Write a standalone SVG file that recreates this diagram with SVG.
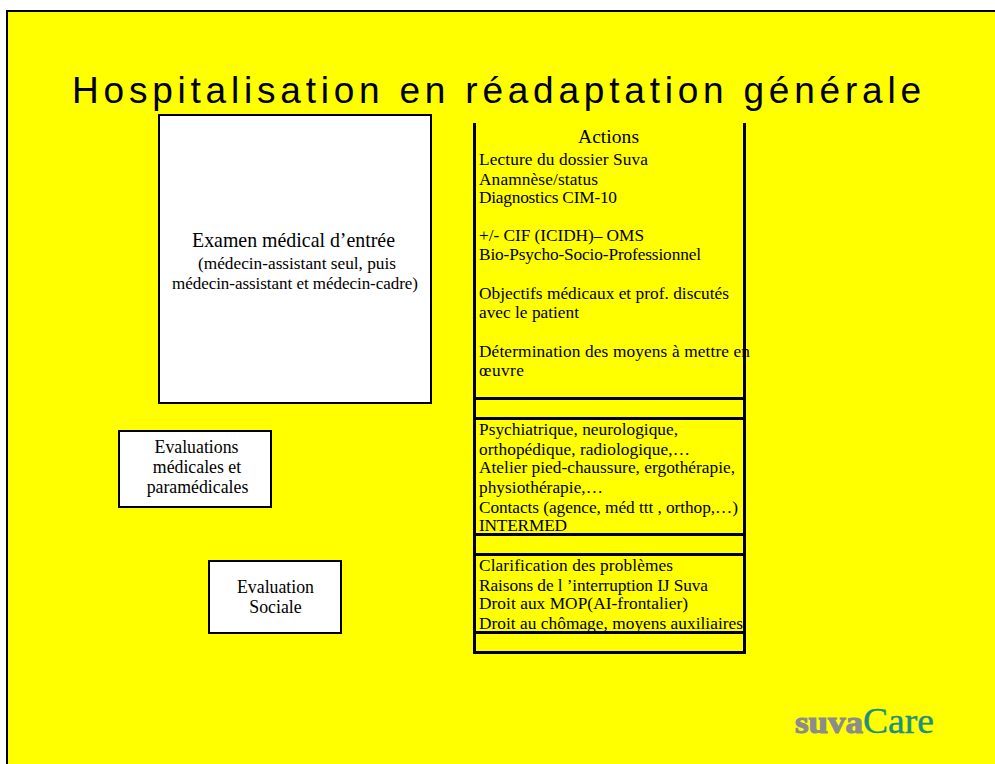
<svg xmlns="http://www.w3.org/2000/svg" width="995" height="764" viewBox="0 0 995 764">
<style>
text{font-family:"Liberation Serif","Times New Roman",serif;fill:#000}
.a{font-size:17.300px}
.b{font-size:17.800px}
.c{text-anchor:middle}
.box{fill:#fff;stroke:#000;stroke-width:2}
.ln{stroke:#000;stroke-width:3;fill:none}
</style>
<rect x="7" y="11" width="995" height="760" fill="#ff0" stroke="#000" stroke-width="2"/>
<text x="72" y="103" textLength="849" style="font-family:'Liberation Sans',Arial,sans-serif;font-size:37px">Hospitalisation en réadaptation générale</text>
<g id="examen"><rect class="box" x="159" y="115" width="272" height="288"/>
<text x="192" y="247" textLength="203" font-size="19.900">Examen médical d’entrée</text>
<text x="198" y="269" textLength="198" font-size="17.300">(médecin-assistant seul, puis</text>
<text x="172" y="289" textLength="246" font-size="17">médecin-assistant et médecin-cadre)</text></g>
<g id="evaluations"><rect class="box" x="119" y="431" width="152" height="76"/>
<text x="196.500" y="453" class="c b">Evaluations</text>
<text x="197" y="473" class="c b">médicales et</text>
<text x="197.500" y="493" class="c b">paramédicales</text></g>
<g id="sociale"><rect class="box" x="209" y="561" width="132" height="72"/>
<text x="275.500" y="593" class="c b">Evaluation</text>
<text x="275.500" y="613" class="c b">Sociale</text></g>
<g id="tableau">
<path class="ln" d="M474.500 123V652.500H744.500V123M474.500 398.500H744.500M474.500 418.500H744.500M474.500 534.500H744.500M474.500 554.500H744.500M474.500 632.500H744.500"/>
</g>
<g id="actions">
<text x="578" y="143" textLength="61" font-size="19.500">Actions</text>
<text class="a" x="479" y="165" textLength="169">Lecture du dossier Suva</text>
<text class="a" x="479" y="185" textLength="119">Anamnèse/status</text>
<text class="a" x="479" y="203" textLength="138">Diagnostics CIM-10</text>
<text class="a" x="479" y="241" textLength="165">+/- CIF (ICIDH)– OMS</text>
<text class="a" x="479" y="260" textLength="222">Bio-Psycho-Socio-Professionnel</text>
<text class="a" x="479" y="299" textLength="250">Objectifs médicaux et prof. discutés</text>
<text class="a" x="479" y="318" textLength="100">avec le patient</text>
<text class="a" x="479" y="357" textLength="271">Détermination des moyens à mettre en</text>
<text class="a" x="479" y="376" textLength="45">œuvre</text>
<text class="a" x="479" y="435" textLength="199">Psychiatrique, neurologique,</text>
<text class="a" x="479" y="455" textLength="211">orthopédique, radiologique,…</text>
<text class="a" x="479" y="473" textLength="256">Atelier pied-chaussure, ergothérapie,</text>
<text class="a" x="479" y="493" textLength="124">physiothérapie,…</text>
<text class="a" x="479" y="513" textLength="259">Contacts (agence, méd ttt , orthop,…)</text>
<text class="a" x="479" y="531" textLength="88">INTERMED</text>
<text class="a" x="479" y="571" textLength="194">Clarification des problèmes</text>
<text class="a" x="479" y="591" textLength="229">Raisons de l ’interruption IJ Suva</text>
<text class="a" x="479" y="609" textLength="209">Droit aux MOP(AI-frontalier)</text>
<text class="a" x="479" y="629" textLength="264">Droit au chômage, moyens auxiliaires</text>
</g>
<g id="logo">
<text x="795" y="733" font-size="32" font-weight="bold" textLength="68" lengthAdjust="spacingAndGlyphs" style="fill:#8c8c8c;stroke:#8c8c8c;stroke-width:1.2">suva</text>
<text x="863" y="733" font-size="36" textLength="71" lengthAdjust="spacingAndGlyphs" style="fill:#1f8f80;stroke:#1f8f80;stroke-width:.4">Care</text>
</g>
</svg>
